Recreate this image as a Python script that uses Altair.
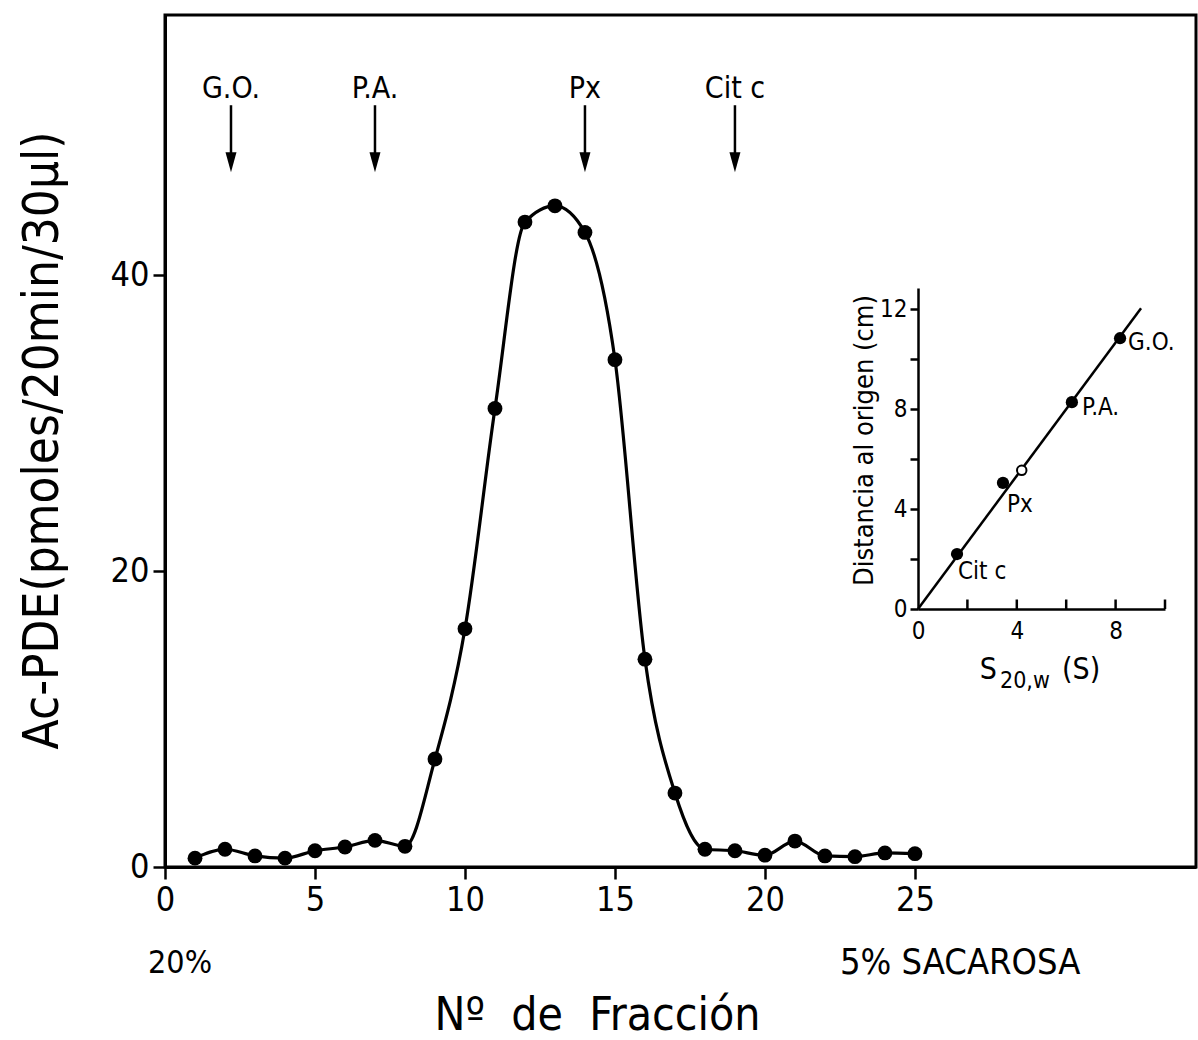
import altair as alt
import pandas as pd

FONT = "DejaVu Sans Condensed, Liberation Sans Narrow, DejaVu Sans"

# ---- main profile data ----
fraction = list(range(1, 26))
activity = [0.6, 1.2, 0.75, 0.6, 1.1, 1.35, 1.8, 1.4, 7.3, 16.1, 31.0, 43.6, 44.7,
            42.9, 34.3, 14.05, 5.0, 1.2, 1.1, 0.8, 1.75, 0.75, 0.7, 0.95, 0.9]

marker_names = ["G.O.", "P.A.", "Px", "Cit c"]
marker_fraction = [2.2, 7.0, 14.0, 19.0]

x_ticks = [0, 5, 10, 15, 20, 25]
y_ticks = [0, 20, 40]

# ---- inset data ----
inset_names = ["Cit c", "Px", "P.A.", "G.O."]
inset_s = [1.58, 3.44, 6.23, 8.18]
inset_dist = [2.2, 5.05, 8.28, 10.84]
open_s = [4.2]
open_dist = [5.55]
fit_s = [0.0, 9.03]
fit_dist = [0.0, 12.04]
inset_x_ticks = [0, 2, 4, 6, 8, 10]
inset_y_ticks = [0, 2, 4, 6, 8, 10, 12]

main_df = pd.DataFrame({"frac": fraction, "act": activity})
arrow_df = pd.DataFrame({"name": marker_names, "frac": marker_fraction})
inset_df = pd.DataFrame({"name": inset_names, "s": inset_s, "d": inset_dist})
open_df = pd.DataFrame({"s": open_s, "d": open_dist})
fit_df = pd.DataFrame({"s": fit_s, "d": fit_dist})
itick_df = pd.DataFrame({"s": inset_x_ticks[1:]})

# ---- main chart ----
xs = alt.Scale(domain=[0, 34.37], nice=False, zero=False)
ys = alt.Scale(domain=[0, 57.6], nice=False)

xaxis = alt.Axis(values=x_ticks, format="d", tickSize=12, tickWidth=2.5, domainWidth=3,
                 labelFontSize=34, labelPadding=4, labelFlush=False, labelOverlap=False,
                 title="Nº\u00a0\u00a0de\u00a0\u00a0Fracción", titleFontSize=46, titleX=432, titleY=148,
                 titleBaseline="middle", titleAlign="center", grid=False)
yaxis = alt.Axis(values=y_ticks, format="d", tickSize=12, tickWidth=2.5, domainWidth=3,
                 labelFontSize=34, labelPadding=4, labelFlush=False, labelOverlap=False,
                 title="Ac-PDE(pmoles/20min/30µl)", titleFontSize=49, titleX=-123, titleY=425,
                 titleAngle=270, titleBaseline="middle", titleAlign="center", grid=False)

base = alt.Chart(main_df)
line = base.mark_line(interpolate="monotone", color="black", strokeWidth=3.2).encode(
    x=alt.X("frac:Q", scale=xs, axis=xaxis),
    y=alt.Y("act:Q", scale=ys, axis=yaxis),
)
pts = base.mark_circle(size=220, color="black", opacity=1).encode(x="frac:Q", y="act:Q")

arr = alt.Chart(arrow_df)
shaft = arr.mark_rule(strokeWidth=2.5, color="black").encode(
    x="frac:Q", y=alt.datum(51.5), y2=alt.datum(48.0))
head = arr.mark_point(shape="M-0.55,-1L0.55,-1L0,1Z", size=400, filled=True,
                      color="black", opacity=1).encode(x="frac:Q", y=alt.datum(47.65))
arr_lbl = arr.mark_text(fontSize=30, baseline="middle").encode(
    x="frac:Q", y=alt.datum(52.6), text="name:N")

t20 = alt.Chart(pd.DataFrame({"t": ["20%"]})).mark_text(
    fontSize=32, align="center", baseline="middle").encode(
    x=alt.datum(0.5), y=alt.datum(-6.5), text="t:N")
t5 = alt.Chart(pd.DataFrame({"t": ["5% SACAROSA"]})).mark_text(
    fontSize=36, align="left", baseline="middle").encode(
    x=alt.datum(22.5), y=alt.datum(-6.5), text="t:N")

main = alt.layer(line, pts, shaft, head, arr_lbl, t20, t5)

# ---- inset ----
isx = alt.Scale(domain=[0, 10], range=[753, 1000], nice=False, zero=False)
isy = alt.Scale(domain=[0, 12.85], range=[594, 273], nice=False)

ixaxis = alt.Axis(orient="bottom", offset=-258, values=inset_x_ticks, format="d",
                  labelExpr="datum.value % 4 == 0 ? datum.label : ''",
                  ticks=False, domainWidth=2.5, labelFontSize=24, labelPadding=10,
                  labelFlush=False, labelOverlap=False, title=None, grid=False)
iyaxis = alt.Axis(orient="left", offset=-753, values=inset_y_ticks, format="d",
                  labelExpr="datum.value % 4 == 0 ? datum.label : ''",
                  tickSize=8, tickWidth=2.5, domainWidth=2.5, labelFontSize=24,
                  labelPadding=3, labelFlush=False, labelOverlap=False,
                  title="Distancia al origen (cm)", titleFontSize=27, titleX=-54, titleY=425,
                  titleAngle=270, titleBaseline="middle", titleAlign="center", grid=False)

ifit = alt.Chart(fit_df).mark_line(color="black", strokeWidth=2.5).encode(
    x=alt.X("s:Q", scale=isx, axis=ixaxis),
    y=alt.Y("d:Q", scale=isy, axis=iyaxis),
)
ipts = alt.Chart(inset_df).mark_circle(size=150, color="black", opacity=1).encode(
    x="s:Q", y="d:Q")
iopen = alt.Chart(open_df).mark_point(size=90, color="black", fill="white",
                                      filled=False, strokeWidth=2, opacity=1).encode(
    x="s:Q", y="d:Q")
iticks = alt.Chart(itick_df).mark_rule(color="black", strokeWidth=2.5).encode(
    x="s:Q", y=alt.datum(0), y2=alt.datum(0.38))

offsets = {"G.O.": (8, 5), "P.A.": (10, 6), "Px": (4, 22), "Cit c": (1, 18)}
ilabels = []
for nm, (ddx, ddy) in offsets.items():
    ilabels.append(
        alt.Chart(inset_df).transform_filter(alt.datum.name == nm).mark_text(
            fontSize=24, align="left", baseline="middle", dx=ddx, dy=ddy).encode(
            x="s:Q", y="d:Q", text="name:N")
    )

ts = alt.Chart(pd.DataFrame({"t": ["S"]})).mark_text(
    fontSize=30, align="left", baseline="middle").encode(
    x=alt.datum(2.5), y=alt.datum(-2.44), text="t:N")
tsub = alt.Chart(pd.DataFrame({"t": ["20,w"]})).mark_text(
    fontSize=23, align="left", baseline="middle").encode(
    x=alt.datum(3.32), y=alt.datum(-2.9), text="t:N")
tpar = alt.Chart(pd.DataFrame({"t": ["(S)"]})).mark_text(
    fontSize=30, align="left", baseline="middle").encode(
    x=alt.datum(5.83), y=alt.datum(-2.44), text="t:N")

inset = alt.layer(ifit, ipts, iopen, iticks, *ilabels, ts, tsub, tpar)

chart = alt.layer(main, inset).resolve_scale(x="independent", y="independent").properties(
    width=1031, height=852,
    autosize=alt.AutoSizeParams(type="none"),
    padding={"left": 165, "top": 15, "right": 2, "bottom": 173},
).configure_view(stroke="black", strokeWidth=3).configure_axis(
    labelFont=FONT, titleFont=FONT, domainColor="black", tickColor="black",
    labelColor="black", titleColor="black", titleFontWeight="normal",
).configure_text(font=FONT, color="black")

chart.save("out.html", embed_options={"renderer": "svg", "actions": False})
